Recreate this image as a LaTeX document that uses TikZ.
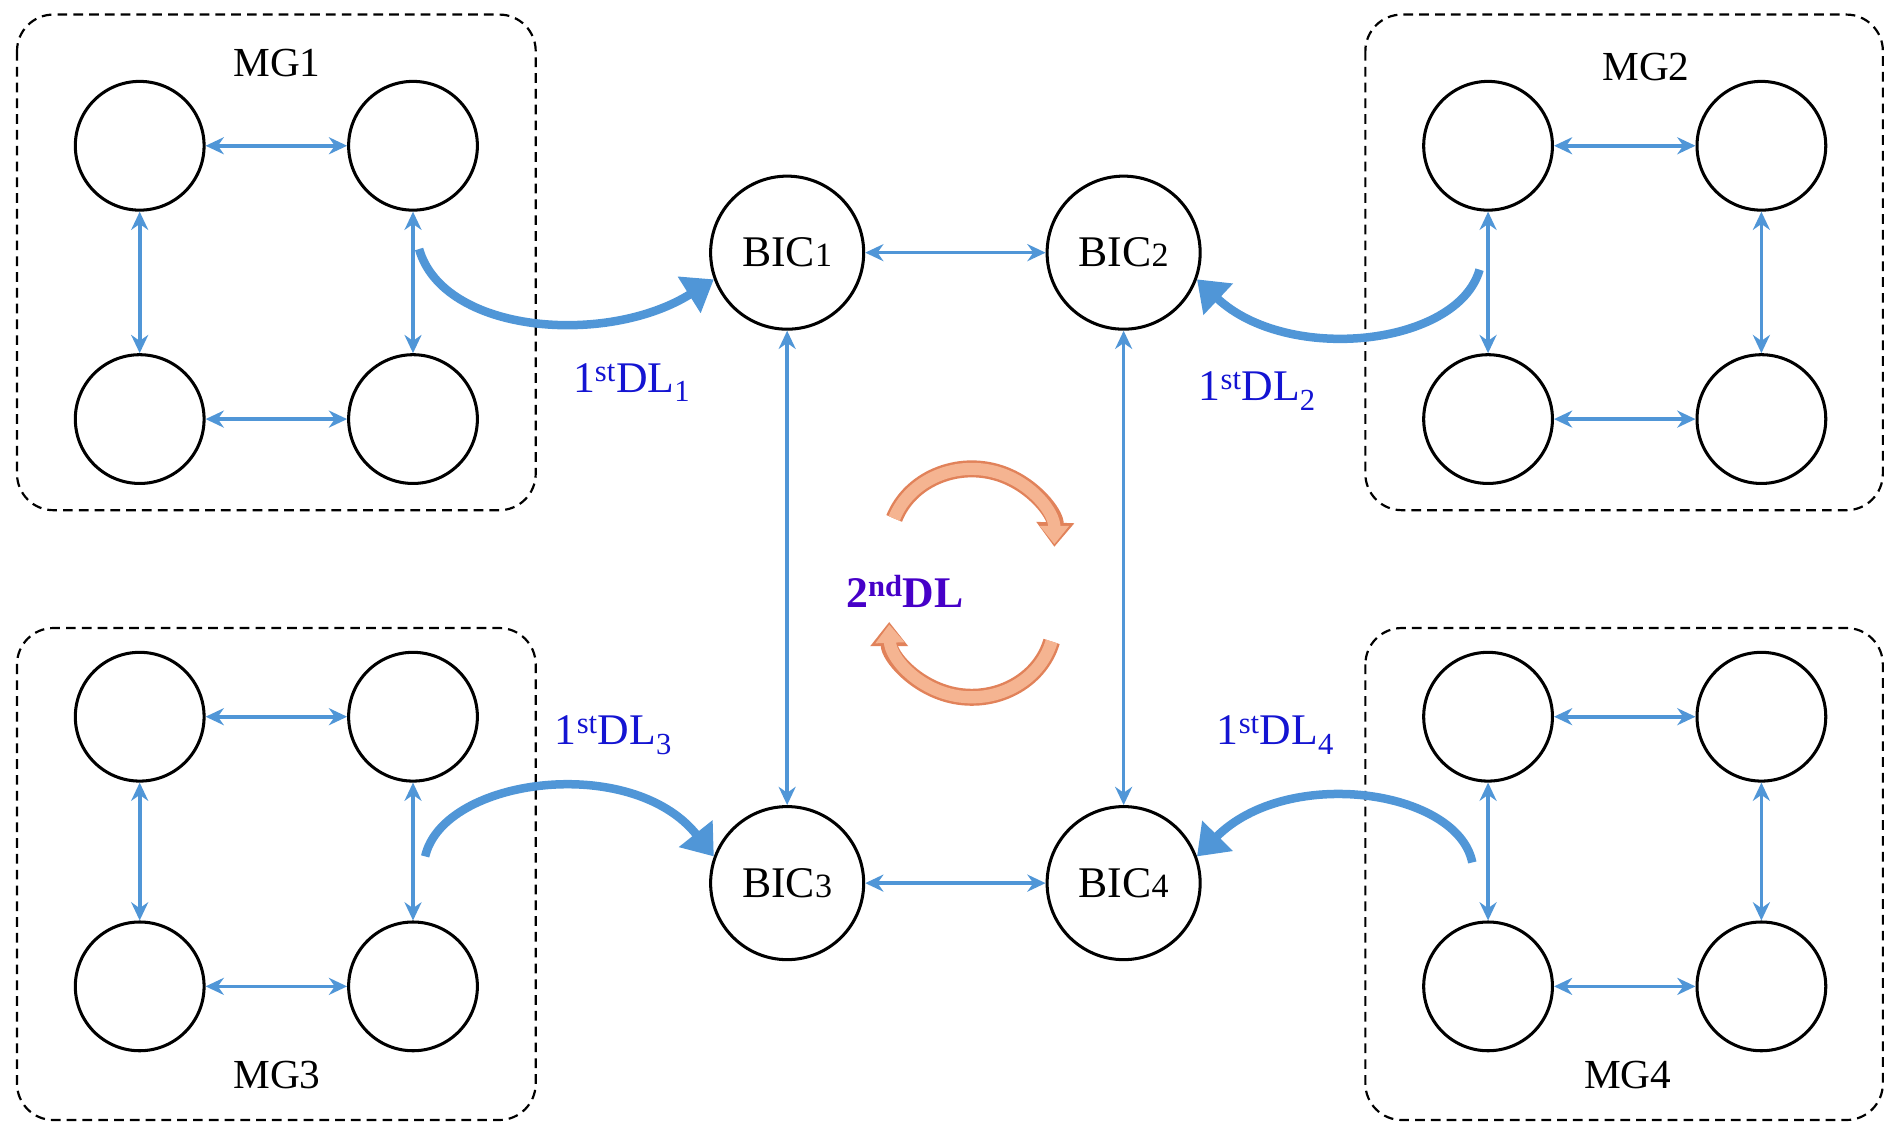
\documentclass[tikz,border=0pt]{standalone}
\usepackage{fontspec}
\setmainfont{Liberation Serif}
\usetikzlibrary{arrows.meta}
\definecolor{lb}{RGB}{80,150,215}
\definecolor{tb}{RGB}{20,20,210}
\definecolor{db}{RGB}{70,0,200}
\definecolor{orf}{RGB}{245,180,145}
\definecolor{ord}{RGB}{225,130,90}
\begin{document}
\begin{tikzpicture}[x=1pt,y=-1pt,
 c/.style={circle,draw,line width=2.5pt,minimum size=106pt,inner sep=0pt},
 b/.style={circle,draw,line width=2.5pt,minimum size=126pt,inner sep=0pt,font=\fontsize{36}{36}\selectfont},
 box/.style={draw,line width=1.8pt,rounded corners=30pt,dash pattern=on 8pt off 5pt},
 la/.style={lb,line width=3pt,{Stealth[length=15pt,width=14pt]}-{Stealth[length=15pt,width=14pt]}},
 fat/.style={lb,line width=7pt,-{Triangle[length=24pt,width=34pt]}},
 lbl/.style={tb,font=\fontsize{36}{36}\selectfont},
 mg/.style={font=\fontsize{34}{34}\selectfont},
 orO/.style={ord,line width=14pt,-{Triangle[length=20pt,width=30pt]}},
 orI/.style={orf,line width=10pt,-{Triangle[length=15pt,width=23pt]}}]
\useasboundingbox (0,0) rectangle (1560,933);
% boxes
\draw[box] (14,12) rectangle (441,420);
\draw[box] (1124,12) rectangle (1550,420);
\draw[box] (14,517) rectangle (441,922);
\draw[box] (1124,517) rectangle (1550,922);
\node[mg] (m1) at (228,52) {MG1};
\node[mg] (m2) at (1355,55) {MG2};
\node[mg] (m3) at (228,885) {MG3};
\node[mg] (m4) at (1340,885) {MG4};
% circles
\foreach \n/\x/\y in {a1/115/120,a2/340/120,a3/115/345,a4/340/345,
 b1/1225/120,b2/1450/120,b3/1225/345,b4/1450/345,
 c1/115/590,c2/340/590,c3/115/812,c4/340/812,
 d1/1225/590,d2/1450/590,d3/1225/812,d4/1450/812}
 \node[c] (\n) at (\x,\y) {};
\foreach \g in {a,b,c,d}{
 \draw[la] (\g1) -- (\g2); \draw[la] (\g3) -- (\g4);
 \draw[la] (\g1) -- (\g3); \draw[la] (\g2) -- (\g4);}
% BICs
\node[b] (B1) at (648,208) {BIC\fontsize{28}{28}\selectfont 1};
\node[b] (B2) at (925,208) {BIC\fontsize{28}{28}\selectfont 2};
\node[b] (B3) at (648,727) {BIC\fontsize{28}{28}\selectfont 3};
\node[b] (B4) at (925,727) {BIC\fontsize{28}{28}\selectfont 4};
\draw[la] (B1) -- (B2); \draw[la] (B3) -- (B4);
\draw[la] (B1) -- (B3); \draw[la] (B2) -- (B4);
% fat arrows
\coordinate (s1) at (345,205); \coordinate (s2) at (1218,222);
\coordinate (s3) at (350,705); \coordinate (s4) at (1212,710);
\draw[fat] (s1) .. controls (365,275) and (500,285) .. (B1.200);
\draw[fat] (s2) .. controls (1200,285) and (1060,300) .. (B2.-20);
\draw[fat] (s3) .. controls (365,640) and (520,620) .. (B3.160);
\draw[fat] (s4) .. controls (1200,650) and (1060,630) .. (B4.20);
% labels
\node[lbl] (l1) at (520,315) {1\textsuperscript{st}DL\textsubscript{1}};
\node[lbl] (l2) at (1035,322) {1\textsuperscript{st}DL\textsubscript{2}};
\node[lbl] (l3) at (505,605) {1\textsuperscript{st}DL\textsubscript{3}};
\node[lbl] (l4) at (1050,605) {1\textsuperscript{st}DL\textsubscript{4}};
\node[db,font=\bfseries\fontsize{36}{36}\selectfont] (dl) at (745,487) {2\textsuperscript{nd}DL};
% orange cycle
\coordinate (o1) at ({800+68*cos(200)},{448+62*sin(200)});
\coordinate (o2) at ({800+68*cos(15)},{512+62*sin(15)});
\draw[orO] (o1) arc[start angle=200,end angle=362,x radius=68,y radius=62];
\draw[orI] (o1) arc[start angle=200,end angle=360,x radius=68,y radius=62];
\draw[orO] (o2) arc[start angle=15,end angle=180,x radius=68,y radius=62];
\draw[orI] (o2) arc[start angle=15,end angle=178,x radius=68,y radius=62];
\end{tikzpicture}
\end{document}
